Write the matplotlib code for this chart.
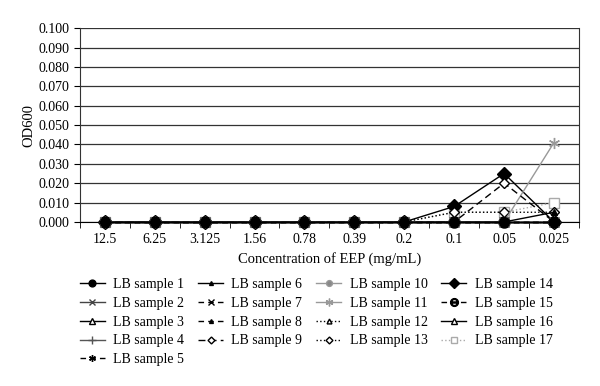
import matplotlib.pyplot as plt

plt.rcParams['font.family'] = ['Liberation Serif', 'DejaVu Serif']

concentrations = ['12.5', '6.25', '3.125', '1.56', '0.78', '0.39', '0.2', '0.1', '0.05', '0.025']

zeros = [0.0] * 10
s1 = zeros[:]
s2 = zeros[:]
s3 = zeros[:]
s4 = zeros[:]
s5 = zeros[:]
s6 = [0, 0, 0, 0, 0, 0, 0, 0, 0, 0.005]
s7 = zeros[:]
s8 = zeros[:]
s9 = [0, 0, 0, 0, 0, 0, 0, 0, 0.020, 0]
s10 = zeros[:]
s11 = [0, 0, 0, 0, 0, 0, 0, 0, 0, 0.041]
s12 = zeros[:]
s13 = [0, 0, 0, 0, 0, 0, 0, 0.005, 0.005, 0.005]
s14 = [0, 0, 0, 0, 0, 0, 0, 0.008, 0.025, 0]
s15 = zeros[:]
s16 = zeros[:]
s17 = [0, 0, 0, 0, 0, 0, 0, 0.005, 0.005, 0.010]

series = [s1, s2, s3, s4, s5, s6, s7, s8, s9, s10, s11, s12, s13, s14, s15, s16, s17]
labels = ['LB sample %d' % (i + 1) for i in range(17)]

# (marker, linestyle, color, markerfacecolor, markersize)
styles = [
    ('o', '-', 'black', 'black', 7),
    ('x', '-', '#444444', 'none', 7),
    ('^', '-', 'black', 'white', 6),
    ('+', '-', '#555555', 'none', 8),
    ((6, 2, 0), (0, (4, 3)), 'black', 'none', 7),
    ('^', '-', 'black', 'black', 4),
    ('x', (0, (4, 3)), 'black', 'none', 6),
    ('^', (0, (4, 3)), 'black', 'black', 4),
    ('D', (0, (5, 3)), 'black', 'white', 5),
    ('o', '-', '#999999', '#888888', 6),
    ((6, 2, 0), '-', '#999999', 'none', 8),
    ('^', ':', 'black', 'white', 5),
    ('D', ':', 'black', 'white', 5),
    ('D', '-', 'black', 'black', 7),
    ('$\\ominus$', (0, (4, 3)), 'black', 'black', 8),
    ('^', '-', 'black', 'white', 6),
    ('s', ':', '#aaaaaa', 'white', 7),
]

fig = plt.figure(figsize=(6, 3.86), dpi=100)
ax = fig.add_axes([0.133, 0.425, 0.832, 0.502])

x = list(range(len(concentrations)))
n = len(series)
for i, (vals, lab, (mk, ls, col, mfc, ms)) in enumerate(zip(series, labels, styles)):
    # earlier samples drawn on top so the zero points look dark
    ax.plot(x, vals, marker=mk, linestyle=ls, color=col, markerfacecolor=mfc,
            markeredgecolor=col, markersize=ms, linewidth=1.0, label=lab,
            clip_on=False, zorder=3 + (n - i) * 0.01)

ax.set_ylim(0, 0.1)
ax.set_xlim(-0.5, 9.5)
ax.set_yticks([i / 100 for i in range(11)])
ax.set_yticklabels(['%.3f' % (i / 100) for i in range(11)], fontsize=10)
ax.set_xticks(x)
ax.set_xticklabels(concentrations, fontsize=10)
ax.set_xticks([i + 0.5 for i in range(-1, 10)], minor=True)
ax.tick_params(axis='x', which='major', length=0, pad=8)
ax.tick_params(axis='x', which='minor', length=4, direction='out')
ax.tick_params(axis='y', length=4, direction='out')
ax.yaxis.grid(True, color='#333333', linewidth=0.9)
ax.set_axisbelow(True)
ax.spines['top'].set_visible(False)
ax.spines['left'].set_color('#333333')
ax.spines['right'].set_color('#333333')
ax.spines['bottom'].set_color('black')

ax.set_xlabel('Concentration of EEP (mg/mL)', fontsize=10.5, labelpad=4)
ax.set_ylabel('OD600', fontsize=10.5, labelpad=2)

fig.legend(loc='upper left', bbox_to_anchor=(0.133, 0.28), ncol=4, frameon=False,
           fontsize=10, handlelength=1.8, columnspacing=1.0, labelspacing=0.42,
           handletextpad=0.6, markerscale=0.7, borderpad=0, borderaxespad=0)

fig.savefig('out.png', dpi=100)
